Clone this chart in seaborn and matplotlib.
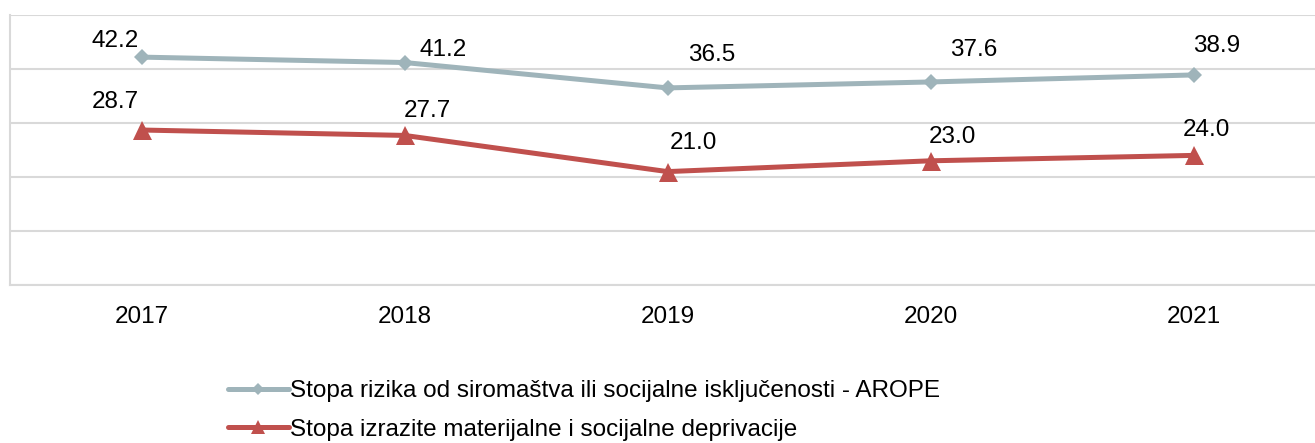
import numpy as np
import matplotlib
matplotlib.use("Agg")
import matplotlib.pyplot as plt
import seaborn as sns
import pandas as pd

# data
years = ["2017", "2018", "2019", "2020", "2021"]
arope = [42.2, 41.2, 36.5, 37.6, 38.9]
deprivation = [28.7, 27.7, 21.0, 23.0, 24.0]
series_names = ["Stopa rizika od siromaštva ili socijalne isključenosti - AROPE",
                "Stopa izrazite materijalne i socijalne deprivacije"]

# label offsets in pixels (dx, dy), styling only
arope_offsets = [(-26, 16), (39, 13), (44, 33), (43, 32), (23, 29)]
dep_offsets = [(-26, 28), (23, 24), (26, 29), (22, 24), (13, 25)]

sns.set_style("white")
plt.rcParams['font.family'] = ['Liberation Sans', 'DejaVu Sans']
plt.rcParams['text.color'] = 'black'
plt.rcParams['xtick.color'] = 'black'

W, H = 1315, 443
fig = plt.figure(figsize=(W / 100, H / 100), dpi=100)
ax = fig.add_axes([10 / W, (H - 285) / H, 1315 / W, 270 / H])

grey = "#9fb4ba"
red = "#c0504d"
px = 72 / 100  # pixels to points
fs = 17.5

sns.lineplot(x=years, y=arope, ax=ax, color=grey, linewidth=5 * px, marker="D",
             markersize=12 * px, markeredgewidth=0, label=series_names[0], sort=False)
sns.lineplot(x=years, y=deprivation, ax=ax, color=red, linewidth=5 * px, marker="^",
             markersize=19 * px, markeredgewidth=0, label=series_names[1], sort=False)

for i, (v, off) in enumerate(zip(arope, arope_offsets)):
    ax.annotate(f"{v:.1f}", (i, v), xytext=(off[0] * px, off[1] * px),
                textcoords="offset points", ha="center", va="center", fontsize=fs)
for i, (v, off) in enumerate(zip(deprivation, dep_offsets)):
    ax.annotate(f"{v:.1f}", (i, v), xytext=(off[0] * px, off[1] * px),
                textcoords="offset points", ha="center", va="center", fontsize=fs)

ax.set_xlim(-0.5, 4.5)
ax.set_ylim(0, 50)
ax.set_yticks(np.arange(0, 51, 10))
ax.set_yticklabels([])
ax.yaxis.grid(True, color="#d9d9d9", linewidth=1.5)
ax.tick_params(axis="x", length=0, pad=15, labelsize=fs)
ax.tick_params(axis="y", length=0)
for s in ["top", "right"]:
    ax.spines[s].set_visible(False)
ax.spines["left"].set_color("#d9d9d9")
ax.spines["left"].set_linewidth(1.5)
ax.spines["bottom"].set_color("#d9d9d9")
ax.spines["bottom"].set_linewidth(1.5)
ax.set_xlabel("")
ax.set_ylabel("")

handles, labels = ax.get_legend_handles_labels()
ax.get_legend().remove()
fig.legend(handles, labels, loc="upper left", bbox_to_anchor=(228 / W, 1 - 380 / H),
           frameon=False, fontsize=fs, handlelength=2.5, handletextpad=0.05,
           labelspacing=0.68, borderpad=0, borderaxespad=0, markerscale=0.7)

fig.savefig("out.png", dpi=100)
